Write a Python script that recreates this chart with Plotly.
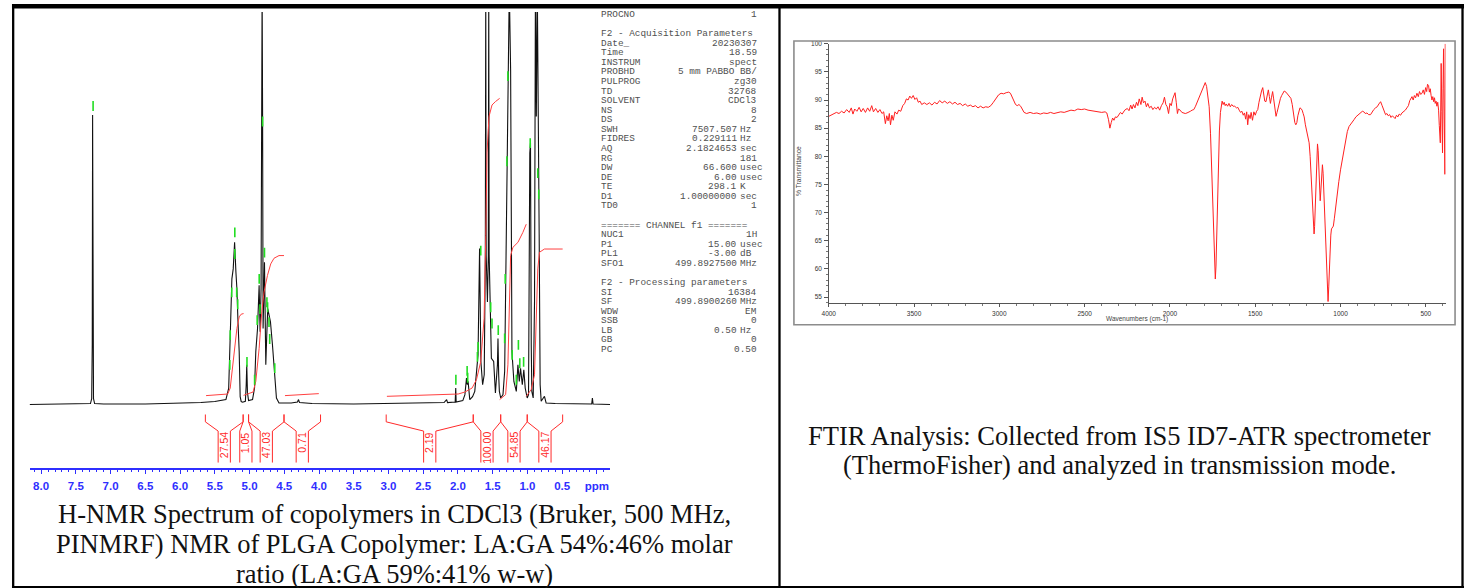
import plotly.graph_objects as go

W, H = 1466, 588

# ---------------- NMR data (ppm, intensity) ----------------
nmr_spectrum = [
    (8.166, 0), (7.60, 0.5), (7.40, 0.8), (7.29, 1), (7.272, 6), (7.264, 60), (7.259, 291.6),
    (7.254, 60), (7.246, 6), (7.23, 1), (7.10, 0.5), (6.50, 0.5), (6.00, 1), (5.70, 2), (5.50, 3),
    (5.40, 4), (5.34, 5), (5.30, 16.6), (5.278, 70), (5.254, 126.6), (5.235, 136.6), (5.215, 163.3),
    (5.196, 133.3), (5.182, 116.6), (5.168, 86.6), (5.149, 53.3), (5.135, 8), (5.12, 3), (5.10, 2.3),
    (5.06, 3.3), (5.048, 20), (5.040, 40), (5.030, 12), (5.014, 4), (4.957, 5), (4.928, 16.6),
    (4.910, 53.3), (4.885, 76.6), (4.862, 120), (4.848, 73.3), (4.834, 116.6), (4.825, 250),
    (4.819, 420), (4.812, 290), (4.805, 76.6), (4.785, 143.3), (4.766, 40), (4.752, 70),
    (4.738, 96.6), (4.719, 90), (4.699, 83.3), (4.670, 60), (4.642, 33.3), (4.613, 6.6),
    (4.576, 1.6), (4.40, 1.5), (4.31, 2.5), (4.295, 5), (4.28, 2), (4.10, 1), (3.50, 0.5),
    (3.00, 1), (2.60, 1.5), (2.30, 2), (2.20, 2), (2.163, 5), (2.15, 2), (2.04, 2.5), (2.032, 16.6),
    (2.026, 2.5), (1.93, 4), (1.900, 10), (1.877, 26.6), (1.865, 20), (1.854, 23.3), (1.830, 5),
    (1.790, 8), (1.758, 13.3), (1.734, 36.6), (1.711, 50), (1.689, 157), (1.670, 43.3),
    (1.645, 20), (1.622, 30), (1.606, 150), (1.600, 420), (1.594, 150), (1.576, 103.3),
    (1.563, 150), (1.557, 420), (1.551, 150), (1.533, 96.6), (1.519, 46.6), (1.486, 43.3),
    (1.461, 11.6), (1.432, 40), (1.424, 66.6), (1.414, 30), (1.404, 13.3), (1.385, 6.6),
    (1.352, 10), (1.328, 33.3), (1.304, 170), (1.281, 336.6), (1.261, 420), (1.242, 336.6),
    (1.223, 53.3), (1.195, 23.3), (1.160, 13.3), (1.137, 40), (1.117, 23.3), (1.099, 36.6),
    (1.074, 20), (1.052, 35), (1.032, 16.6), (1.003, 6.6), (0.984, 10), (0.966, 253.3),
    (0.956, 263.3), (0.945, 60), (0.937, 13.3), (0.917, 6.6), (0.898, 103.3), (0.885, 420),
    (0.872, 290), (0.858, 420), (0.845, 230), (0.831, 171), (0.817, 20), (0.802, 3.3),
    (0.755, 8.3), (0.731, 1.6), (0.60, 1), (0.30, 0.5), (0.075, 0.5), (0.065, 6.6),
    (0.055, 0.5), (-0.19, 0),
]

nmr_peak_marks = [
    (7.252, 300.6), (5.212, 173.3), (5.212, 151.6), (5.256, 113), (5.185, 113), (5.17, 101),
    (5.278, 70), (5.284, 40), (5.037, 43), (4.927, 25), (4.89, 85), (4.861, 126.6), (4.85, 96),
    (4.812, 285), (4.785, 153), (4.75, 103), (4.74, 98), (4.72, 83), (4.71, 66), (4.637, 36.6),
    (2.030, 25), (1.868, 34), (1.86, 27), (1.72, 48), (1.71, 58), (1.672, 155), (1.529, 98),
    (1.51, 81.6), (1.42, 75), (1.328, 66.6), (1.32, 126.6), (1.295, 245), (1.281, 330.6),
    (1.22, 50), (1.16, 25), (1.13, 60), (1.11, 41.6), (1.055, 43), (0.96, 263.3),
    (0.851, 233), (0.837, 211.6),
]

integral_curves = [
    [(5.626, 9), (5.315, 10.6), (5.278, 16.6), (5.244, 36.6), (5.211, 60), (5.182, 76.6),
     (5.149, 88.3), (5.120, 91), (5.086, 91.6)],
    [(5.086, 9.3), (5.029, 10.6), (4.949, 12.6), (4.910, 23.3), (4.862, 56.6), (4.824, 93.3),
     (4.791, 113.3), (4.742, 130), (4.695, 141.6), (4.648, 147.3), (4.576, 150), (4.504, 150)],
    [(4.490, 9), (4.241, 10), (4.003, 11)],
    [(3.023, 8.3), (2.474, 9.3), (1.997, 10.6), (1.901, 12.6), (1.797, 16.6)],
    [(1.797, 16.6), (1.734, 25), (1.672, 43.3), (1.624, 86.6), (1.600, 170), (1.582, 253.3),
     (1.553, 290), (1.510, 301.6), (1.461, 305), (1.400, 308.3)],
    [(1.400, 5), (1.314, 10), (1.281, 40), (1.261, 103.3), (1.242, 150), (1.209, 158.3),
     (1.137, 163.3), (1.066, 173.3), (1.017, 181.6)],
    [(1.017, 8.3), (0.946, 15), (0.898, 30), (0.870, 86.6), (0.851, 136.6), (0.827, 153.3),
     (0.755, 156.6), (0.493, 156.6)],
]

integral_left = [5.636, 5.092, 5.014, 4.504, 3.033, 1.780, 1.385, 1.003]
integral_right = [5.092, 5.014, 4.504, 3.978, 1.780, 1.385, 1.003, 0.493]
integral_labels = ["27.54", "1.05", "47.03", "0.71", "2.19", "100.00", "54.85", "46.17"]

nmr_tick_vals = [8.0, 7.5, 7.0, 6.5, 6.0, 5.5, 5.0, 4.5, 4.0, 3.5, 3.0, 2.5, 2.0, 1.5, 1.0, 0.5, 0.0]
nmr_tick_text = ["8.0", "7.5", "7.0", "6.5", "6.0", "5.5", "5.0", "4.5", "4.0", "3.5", "3.0",
                 "2.5", "2.0", "1.5", "1.0", "0.5", "ppm"]

param_names = ["PROCNO", "", "F2 - Acquisition Parameters", "Date_", "Time", "INSTRUM", "PROBHD",
               "PULPROG", "TD", "SOLVENT", "NS", "DS", "SWH", "FIDRES", "AQ", "RG", "DW", "DE",
               "TE", "D1", "TD0", "", "======= CHANNEL f1 =======", "NUC1", "P1", "PL1", "SFO1",
               "", "F2 - Processing parameters", "SI", "SF", "WDW", "SSB", "LB", "GB", "PC"]
param_values = ["1", "", "", "20230307", "18.59", "spect", "5 mm PABBO BB/", "zg30", "32768",
                "CDCl3", "8", "2", "7507.507", "0.229111", "2.1824653", "181", "66.600", "6.00",
                "298.1", "1.00000000", "1", "", "", "1H", "15.00", "-3.00", "499.8927500", "", "",
                "16384", "499.8900260", "EM", "0", "0.50", "0", "0.50"]
param_units = ["", "", "", "", "", "", "", "", "", "", "", "", "Hz", "Hz", "sec", "", "usec",
               "usec", "K", "sec", "", "", "", "", "usec", "dB", "MHz", "", "", "", "MHz", "",
               "", "Hz", "", ""]

nmr_caption = ["H-NMR Spectrum of copolymers in CDCl3 (Bruker, 500 MHz,",
               "PINMRF) NMR of PLGA Copolymer: LA:GA 54%:46% molar",
               "ratio (LA:GA 59%:41% w-w)"]

# ---------------- FTIR data (wavenumber, %T) ----------------
ftir_points = [
    (4000, 87.1), (3985, 87.3), (3970, 87.6), (3955, 87.8), (3940, 87.6), (3925, 88.0),
    (3910, 87.7), (3895, 88.3), (3880, 87.8), (3868, 88.6), (3858, 87.5), (3848, 88.4),
    (3835, 88.0), (3822, 88.7), (3810, 87.9), (3798, 88.5), (3785, 87.8), (3772, 88.6),
    (3760, 88.0), (3748, 89.0), (3738, 87.9), (3725, 88.5), (3712, 87.8), (3700, 88.3),
    (3688, 87.6), (3678, 87.9), (3668, 85.8), (3660, 87.2), (3652, 86.3), (3645, 87.6),
    (3638, 85.6), (3630, 87.3), (3622, 86.4), (3612, 87.9), (3600, 87.5), (3590, 88.2),
    (3578, 88.0), (3566, 89.0), (3555, 89.4), (3545, 90.2), (3535, 90.0), (3525, 90.7),
    (3515, 90.3), (3505, 90.8), (3495, 90.1), (3485, 90.4), (3475, 89.6), (3465, 89.8),
    (3455, 89.2), (3440, 89.5), (3425, 89.2), (3410, 89.5), (3395, 89.1), (3380, 89.6),
    (3365, 89.3), (3350, 89.9), (3335, 89.5), (3320, 89.8), (3305, 89.4), (3290, 89.7),
    (3275, 89.3), (3260, 89.6), (3245, 89.2), (3230, 89.4), (3215, 89.0), (3200, 89.3),
    (3185, 88.9), (3170, 89.1), (3155, 88.8), (3140, 89.0), (3125, 88.6), (3110, 88.9),
    (3095, 88.6), (3080, 88.8), (3065, 88.7), (3050, 89.0), (3035, 89.6), (3020, 90.3),
    (3005, 90.9), (2990, 91.2), (2975, 91.1), (2960, 91.3), (2945, 91.4), (2935, 91.2),
    (2925, 90.6), (2915, 89.8), (2905, 89.2), (2895, 89.0), (2885, 89.2), (2875, 88.9),
    (2865, 88.2), (2855, 87.8), (2840, 87.6), (2820, 87.8), (2800, 87.6), (2780, 87.7),
    (2760, 87.5), (2740, 87.7), (2720, 87.6), (2700, 87.8), (2680, 87.6), (2660, 87.7),
    (2640, 87.9), (2620, 87.8), (2600, 88.0), (2580, 88.2), (2560, 88.1), (2540, 88.4),
    (2520, 88.3), (2500, 88.4), (2480, 88.2), (2460, 88.1), (2440, 88.0), (2420, 87.9),
    (2400, 87.8), (2380, 87.9), (2370, 87.7), (2360, 86.5), (2352, 85.0), (2344, 86.0),
    (2336, 86.8), (2328, 86.4), (2320, 87.0), (2310, 86.9), (2300, 87.3), (2290, 87.8),
    (2280, 87.5), (2265, 88.2), (2250, 88.5), (2240, 88.1), (2230, 89.1), (2222, 88.4),
    (2214, 89.2), (2205, 88.6), (2196, 89.6), (2188, 89.0), (2180, 90.2), (2170, 89.2),
    (2163, 90.5), (2155, 89.5), (2146, 89.8), (2138, 88.8), (2130, 89.4), (2120, 88.6),
    (2110, 88.9), (2100, 88.3), (2090, 88.7), (2080, 88.4), (2070, 88.8), (2060, 88.2),
    (2050, 89.0), (2040, 89.5), (2032, 90.5), (2024, 89.2), (2016, 88.8), (2008, 87.6),
    (2000, 89.4), (1992, 89.0), (1984, 90.2), (1976, 90.8), (1970, 91.3), (1963, 89.6),
    (1956, 87.6), (1950, 88.4), (1940, 88.2), (1930, 87.8), (1920, 87.7), (1910, 87.6),
    (1900, 87.7), (1890, 87.8), (1880, 88.0), (1870, 88.2), (1860, 88.3), (1850, 88.9),
    (1840, 89.6), (1830, 90.3), (1820, 91.2), (1810, 92.0), (1800, 92.7), (1793, 93.1),
    (1785, 92.4), (1778, 90.8), (1770, 88.8), (1762, 84.0), (1755, 77.5), (1748, 71.0),
    (1742, 64.5), (1737, 59.8), (1734, 58.2), (1730, 60.5), (1726, 66.0), (1722, 72.0),
    (1716, 78.5), (1710, 84.5), (1704, 87.8), (1699, 89.4), (1694, 89.8), (1688, 89.2),
    (1682, 89.6), (1676, 89.0), (1670, 89.3), (1662, 88.9), (1654, 89.4), (1646, 88.8),
    (1638, 89.2), (1630, 88.9), (1620, 88.9), (1610, 88.6), (1602, 88.7), (1594, 88.2),
    (1586, 87.8), (1578, 88.0), (1570, 87.3), (1563, 87.7), (1556, 86.6), (1550, 87.9),
    (1544, 85.6), (1538, 87.4), (1530, 86.7), (1524, 87.8), (1516, 86.4), (1508, 87.9),
    (1500, 87.3), (1492, 88.0), (1485, 88.3), (1478, 89.6), (1470, 90.8), (1463, 91.6),
    (1456, 92.2), (1450, 91.0), (1444, 89.8), (1437, 89.7), (1430, 90.8), (1423, 91.8),
    (1417, 90.6), (1411, 89.4), (1405, 90.4), (1398, 91.5), (1392, 90.2), (1385, 88.2),
    (1378, 87.1), (1372, 87.8), (1366, 88.6), (1359, 89.7), (1352, 90.3), (1345, 90.8),
    (1338, 91.2), (1330, 91.6), (1320, 91.4), (1310, 91.0), (1300, 90.6), (1291, 90.3),
    (1283, 89.2), (1275, 87.4), (1268, 86.0), (1262, 85.6), (1256, 86.0), (1250, 87.2),
    (1244, 88.2), (1238, 88.6), (1232, 88.5), (1225, 88.2), (1219, 87.6), (1213, 87.0),
    (1206, 85.6), (1199, 84.4), (1192, 83.5), (1184, 82.4), (1178, 80.0), (1172, 76.5),
    (1168, 73.0), (1164, 71.2), (1160, 68.5), (1157, 66.8), (1155, 66.2), (1152, 67.5),
    (1149, 70.0), (1145, 72.4), (1142, 76.5), (1138, 80.0), (1135, 82.2), (1131, 81.0),
    (1128, 78.0), (1125, 75.9), (1122, 73.5), (1119, 72.1), (1115, 74.0), (1110, 76.6),
    (1106, 78.5), (1102, 77.0), (1099, 74.5), (1096, 72.4), (1092, 69.5), (1088, 66.5),
    (1084, 64.1), (1080, 60.0), (1077, 56.5), (1073, 54.2), (1069, 56.8), (1065, 60.5),
    (1061, 63.5), (1057, 66.0), (1053, 67.1), (1048, 67.3), (1042, 67.6), (1036, 69.0),
    (1030, 70.8), (1024, 72.2), (1018, 73.5), (1010, 75.5), (1000, 77.6), (989, 79.4),
    (980, 81.3), (970, 83.0), (960, 84.4), (950, 85.3), (940, 85.8), (930, 86.2), (921, 86.5),
    (910, 87.0), (900, 87.3), (890, 87.6), (880, 87.9), (872, 88.0), (863, 87.9), (855, 87.6),
    (845, 87.7), (835, 87.4), (824, 87.4), (815, 87.9), (805, 88.3), (795, 88.6), (785, 88.8),
    (775, 89.3), (765, 89.7), (756, 89.0), (746, 88.0), (736, 87.4), (728, 87.6), (720, 87.2),
    (712, 87.4), (704, 86.9), (696, 87.2), (688, 87.0), (680, 86.7), (672, 87.3), (664, 87.0),
    (656, 87.5), (648, 87.3), (640, 87.7), (629, 87.9), (620, 88.2), (611, 88.6), (602, 89.0),
    (594, 89.9), (587, 90.2), (581, 90.6), (574, 90.0), (567, 90.8), (560, 90.4), (552, 91.2),
    (544, 90.6), (537, 91.5), (530, 91.0), (522, 91.2), (515, 91.8), (508, 91.0), (501, 92.2),
    (495, 91.5), (490, 92.8), (484, 92.6), (479, 91.4), (474, 92.0), (469, 90.8), (464, 90.0),
    (459, 90.6), (454, 89.7), (449, 90.4), (445, 89.4), (440, 89.8), (435, 88.9), (430, 89.6),
    (425, 88.2), (421, 85.5), (418, 83.8), (415, 82.4), (412, 90.0), (410, 96.5), (406, 88.0),
    (404, 84.0), (402, 80.6), (399, 92.0), (396, 99.1), (393, 90.0), (390, 83.0), (388, 76.8),
    (386, 100.0),
]
ftir_xticks = [4000, 3500, 3000, 2500, 2000, 1500, 1000, 500]
ftir_yticks = [55, 60, 65, 70, 75, 80, 85, 90, 95, 100]

ftir_caption = ["FTIR Analysis: Collected from IS5 ID7-ATR spectrometer",
                "(ThermoFisher) and analyzed in transmission mode."]

# ---------------- helpers ----------------
def px(x):
    return x / W


def py(y):
    return 1 - y / H


BLUE = "#2f2fff"
RED = "#ff2a2a"
SANS = "Liberation Sans, Arial, sans-serif"
SERIF = "Liberation Serif, Times New Roman, serif"
MONO = "Liberation Mono, Courier New, monospace"

fig = go.Figure()

# NMR spectrum
fig.add_trace(go.Scatter(
    x=[p[0] for p in nmr_spectrum], y=[p[1] for p in nmr_spectrum],
    mode="lines", line=dict(color="#111111", width=1.1), xaxis="x", yaxis="y",
    hoverinfo="skip"))

# integral curves
for curve in integral_curves:
    fig.add_trace(go.Scatter(
        x=[p[0] for p in curve], y=[p[1] for p in curve], mode="lines",
        line=dict(color="#ff4040", width=1), xaxis="x", yaxis="y", hoverinfo="skip"))

# peak-pick marks
fig.add_trace(go.Scatter(
    x=[p[0] for p in nmr_peak_marks], y=[p[1] for p in nmr_peak_marks], mode="markers",
    marker=dict(symbol="line-ns", size=7, line=dict(color="#22dd22", width=1.6)),
    xaxis="x", yaxis="y", hoverinfo="skip"))

# integral brackets
Y_TOP, Y_KNEE, Y_DIAG, Y_BOT = -10, -17.4, -26.7, -58.4
HW = 0.088
bx, by = [], []
for a, b in zip(integral_left, integral_right):
    m = (a + b) / 2
    bx += [a, a, m + HW, m + HW, None, b, b, m - HW, m - HW, None]
    by += [Y_TOP, Y_KNEE, Y_DIAG, Y_BOT, None, Y_TOP, Y_KNEE, Y_DIAG, Y_BOT, None]
fig.add_trace(go.Scatter(x=bx, y=by, mode="lines", line=dict(color=RED, width=1),
                         xaxis="x", yaxis="y", hoverinfo="skip"))

annotations = []
for a, b, lab in zip(integral_left, integral_right, integral_labels):
    annotations.append(dict(
        x=(a + b) / 2, y=-25.5, xref="x", yref="y", text=lab, showarrow=False,
        textangle=-90, xanchor="center", yanchor="top",
        font=dict(family=SANS, size=10.5, color=RED)))

# FTIR spectrum
fig.add_trace(go.Scatter(
    x=[p[0] for p in ftir_points], y=[p[1] for p in ftir_points], mode="lines",
    line=dict(color="#ff2020", width=1), xaxis="x2", yaxis="y2", hoverinfo="skip"))

# parameter block
pf = dict(family=MONO, size=9.4, color="#505050")
for i, (n, v, u) in enumerate(zip(param_names, param_values, param_units)):
    yy = py(10.5 + 9.64 * i)
    if n:
        annotations.append(dict(x=px(594.5), y=yy, xref="paper", yref="paper", text=n,
                                showarrow=False, xanchor="left", yanchor="middle", font=pf))
    if v:
        xr = 735.5 if u else 755.5
        annotations.append(dict(x=px(xr), y=yy, xref="paper", yref="paper", text=v,
                                showarrow=False, xanchor="right", yanchor="middle", font=pf))
    if u:
        annotations.append(dict(x=px(735), y=yy, xref="paper", yref="paper", text=u,
                                showarrow=False, xanchor="left", yanchor="middle", font=pf))

# captions
for i, line in enumerate(nmr_caption):
    annotations.append(dict(x=px(389), y=py(513 + 30.5 * i), xref="paper", yref="paper",
                            text=line, showarrow=False, xanchor="center", yanchor="middle",
                            font=dict(family=SERIF, size=26.5, color="#111111")))
for i, line in enumerate(ftir_caption):
    annotations.append(dict(x=px(1118), y=py(434.5 + 29.3 * i), xref="paper", yref="paper",
                            text=line, showarrow=False, xanchor="center", yanchor="middle",
                            font=dict(family=SERIF, size=26.5, color="#111111")))

# FTIR axis titles
annotations.append(dict(x=px(796), y=py(168), xref="paper", yref="paper", text="% Transmittance",
                        showarrow=False, textangle=-90, xanchor="center", yanchor="middle",
                        font=dict(family=SANS, size=6.7, color="#444444")))
annotations.append(dict(x=px(1135), y=py(317), xref="paper", yref="paper",
                        text="Wavenumbers (cm-1)", showarrow=False, xanchor="center",
                        yanchor="middle", font=dict(family=SANS, size=6.5, color="#444444")))

# table borders and FTIR frame
shapes = []
def pline(x0, y0, x1, y1, color="black", width=2):
    shapes.append(dict(type="line", xref="paper", yref="paper", x0=px(x0), y0=py(y0),
                       x1=px(x1), y1=py(y1), line=dict(color=color, width=width)))

pline(5, 2.2, 1464, 2.2, width=4.5)
pline(5, 587, 1464, 587, width=2)
pline(6.2, 0, 6.2, 588, width=2.3)
pline(776.2, 0, 776.2, 588, width=2.3)
pline(1462.5, 0, 1462.5, 588, width=2.3)
shapes.append(dict(type="rect", xref="paper", yref="paper", x0=px(790.7), y0=py(323),
                   x1=px(1455), y1=py(37.3), line=dict(color="#8c8c8c", width=1.6)))

fig.update_layout(
    width=W, height=H, margin=dict(l=0, r=0, t=0, b=0),
    paper_bgcolor="white", plot_bgcolor="rgba(0,0,0,0)", showlegend=False,
    xaxis=dict(domain=[px(22.7), px(606)], range=[8.166, -0.19], anchor="y",
               showline=True, linecolor=BLUE, linewidth=1.6, showgrid=False, zeroline=False,
               ticks="outside", ticklen=5, tickwidth=1.2, tickcolor=BLUE,
               tickmode="array", tickvals=nmr_tick_vals, ticktext=nmr_tick_text,
               tickfont=dict(family=SANS, size=11.5, color=BLUE, weight="bold"),
               ticklabelstandoff=2,
               minor=dict(ticks="outside", ticklen=2.5, tickwidth=1, tickcolor=BLUE,
                          dtick=0.1, tick0=0, showgrid=False)),
    yaxis=dict(domain=[py(466.7), py(8)], range=[-63.4, 395.3], anchor="x", visible=False),
    xaxis2=dict(domain=[px(825.7), px(1445.5)], range=[4000, 384], anchor="y2",
                showline=True, linecolor="#555555", linewidth=1, showgrid=False, zeroline=False,
                ticks="outside", ticklen=3.5, tickwidth=1, tickcolor="#555555",
                tickmode="array", tickvals=ftir_xticks,
                tickfont=dict(family=SANS, size=6.5, color="#333333"), ticklabelstandoff=1,
                minor=dict(ticks="outside", ticklen=2, tickwidth=1, tickcolor="#777777",
                           dtick=100, tick0=0, showgrid=False)),
    yaxis2=dict(domain=[py(300.7), py(40)], range=[54, 100], anchor="x2",
                showline=True, linecolor="#555555", linewidth=1, showgrid=False, zeroline=False,
                ticks="outside", ticklen=3.5, tickwidth=1, tickcolor="#555555",
                tickmode="array", tickvals=ftir_yticks,
                tickfont=dict(family=SANS, size=6.5, color="#333333"), ticklabelstandoff=1,
                minor=dict(ticks="outside", ticklen=2, tickwidth=1, tickcolor="#777777",
                           dtick=1, tick0=0, showgrid=False)),
    annotations=annotations, shapes=shapes,
)

fig.write_html("out.html", config={"displayModeBar": False},
               post_script="document.body.style.margin='0';document.body.style.padding='0';"
                           "document.body.style.overflow='hidden';")
